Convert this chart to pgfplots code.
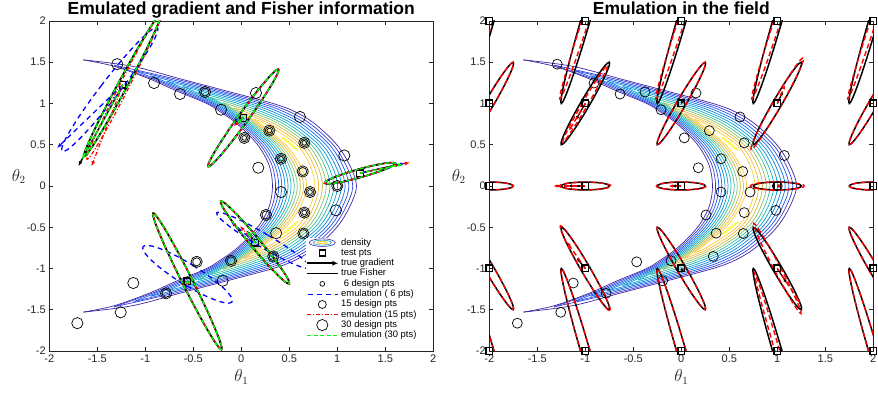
\documentclass[border=0pt]{standalone}
\usepackage{fontspec}
\setmainfont{Liberation Sans}
\usepackage{pgfplots}
\usepackage{pgfplotstable}
\pgfplotsset{compat=1.18}
\usetikzlibrary{arrows.meta}

\definecolor{k0}{rgb}{0.24,0.15,0.62}
\definecolor{k1}{rgb}{0.22,0.24,0.84}
\definecolor{k2}{rgb}{0.12,0.33,0.92}
\definecolor{k3}{rgb}{0.06,0.43,0.90}
\definecolor{k4}{rgb}{0.05,0.52,0.86}
\definecolor{k5}{rgb}{0.04,0.61,0.82}
\definecolor{k6}{rgb}{0.08,0.69,0.74}
\definecolor{k7}{rgb}{0.25,0.75,0.60}
\definecolor{k8}{rgb}{0.52,0.76,0.42}
\definecolor{k9}{rgb}{0.78,0.74,0.28}
\definecolor{k10}{rgb}{0.96,0.73,0.24}
\definecolor{k11}{rgb}{0.99,0.80,0.18}
\definecolor{k12}{rgb}{0.97,0.96,0.08}
\definecolor{axgray}{rgb}{0.15,0.15,0.15}

% unit circle (cos, sin), used to draw the Fisher ellipses
\pgfplotstableread{
c s
0 1
-0.2588 0.9659
-0.5 0.866
-0.7071 0.7071
-0.866 0.5
-0.9659 0.2588
-1 0
-0.9659 -0.2588
-0.866 -0.5
-0.7071 -0.7071
-0.5 -0.866
-0.2588 -0.9659
0 -1
0.2588 -0.9659
0.5 -0.866
0.7071 -0.7071
0.866 -0.5
0.9659 -0.2588
1 0
0.9659 0.2588
0.866 0.5
0.7071 0.7071
0.5 0.866
0.2588 0.9659
0 1
}\unitc

% ellipse: style, cx, cy, ux, uy, a, b
\newcommand{\Ell}[7]{\addplot[smooth,#1] table[x expr={#2+(#6)*(#4)*\thisrow{c}-(#7)*(#5)*\thisrow{s}}, y expr={#3+(#6)*(#5)*\thisrow{c}+(#7)*(#4)*\thisrow{s}}]{\unitc};}

\newcommand{\ctr}[3]{\addplot[#1,line width=0.7pt,smooth,tension=0.55] coordinates {#2};\addplot[#1,line width=0.7pt,smooth,tension=0.55] coordinates {#3};}

\newcommand{\allcontours}{%
\ctr{k0}{(-1.646,1.529)(-1.13,1.45)(-0.64,1.3)(-0.15,1.15)(0.33,1)(0.56,0.9)(0.77,0.75)(0.995,0.5)(1.13,0.25)(1.2,0)(1.13,-0.25)(0.995,-0.5)(0.77,-0.75)(0.56,-0.9)(0.33,-1)(-0.15,-1.15)(-0.64,-1.3)(-1.13,-1.45)(-1.646,-1.529)}{(-1.646,-1.529)(-1.32,-1.45)(-0.96,-1.3)(-0.67,-1.15)(-0.36,-1)(-0.22,-0.9)(-0.04,-0.75)(0.17,-0.5)(0.29,-0.25)(0.325,0)(0.29,0.25)(0.17,0.5)(-0.04,0.75)(-0.22,0.9)(-0.36,1)(-0.67,1.15)(-0.96,1.3)(-1.32,1.45)(-1.646,1.529)}
\ctr{k1}{(-1.325,1.465)(-0.699,1.3)(-0.205,1.15)(0.269,1)(0.502,0.9)(0.723,0.75)(0.957,0.5)(1.092,0.25)(1.161,0)(1.092,-0.25)(0.957,-0.5)(0.723,-0.75)(0.502,-0.9)(0.269,-1)(-0.205,-1.15)(-0.699,-1.3)(-1.325,-1.465)}{(-1.325,-1.465)(-0.929,-1.3)(-0.636,-1.15)(-0.337,-1)(-0.197,-0.9)(-0.018,-0.75)(0.197,-0.5)(0.32,-0.25)(0.357,0)(0.32,0.25)(0.197,0.5)(-0.018,0.75)(-0.197,0.9)(-0.337,1)(-0.636,1.15)(-0.929,1.3)(-1.325,1.465)}
\ctr{k2}{(-1.118,1.4)(-0.758,1.3)(-0.259,1.15)(0.208,1)(0.445,0.9)(0.677,0.75)(0.919,0.5)(1.055,0.25)(1.121,0)(1.055,-0.25)(0.919,-0.5)(0.677,-0.75)(0.445,-0.9)(0.208,-1)(-0.259,-1.15)(-0.758,-1.3)(-1.118,-1.4)}{(-1.118,-1.4)(-0.898,-1.3)(-0.602,-1.15)(-0.313,-1)(-0.175,-0.9)(0.004,-0.75)(0.223,-0.5)(0.349,-0.25)(0.39,0)(0.349,0.25)(0.223,0.5)(0.004,0.75)(-0.175,0.9)(-0.313,1)(-0.602,1.15)(-0.898,1.3)(-1.118,1.4)}
\ctr{k3}{(-0.945,1.336)(-0.817,1.3)(-0.314,1.15)(0.146,1)(0.387,0.9)(0.63,0.75)(0.882,0.5)(1.017,0.25)(1.082,0)(1.017,-0.25)(0.882,-0.5)(0.63,-0.75)(0.387,-0.9)(0.146,-1)(-0.314,-1.15)(-0.817,-1.3)(-0.945,-1.336)}{(-0.945,-1.336)(-0.867,-1.3)(-0.567,-1.15)(-0.29,-1)(-0.152,-0.9)(0.026,-0.75)(0.25,-0.5)(0.379,-0.25)(0.422,0)(0.379,0.25)(0.25,0.5)(0.026,0.75)(-0.152,0.9)(-0.29,1)(-0.567,1.15)(-0.867,1.3)(-0.945,1.336)}
\ctr{k4}{(-0.776,1.271)(-0.369,1.15)(0.085,1)(0.329,0.9)(0.584,0.75)(0.843,0.5)(0.98,0.25)(1.043,0)(0.98,-0.25)(0.843,-0.5)(0.584,-0.75)(0.329,-0.9)(0.085,-1)(-0.369,-1.15)(-0.776,-1.271)}{(-0.776,-1.271)(-0.533,-1.15)(-0.267,-1)(-0.129,-0.9)(0.048,-0.75)(0.276,-0.5)(0.408,-0.25)(0.455,0)(0.408,0.25)(0.276,0.5)(0.048,0.75)(-0.129,0.9)(-0.267,1)(-0.533,1.15)(-0.776,1.271)}
\ctr{k5}{(-0.61,1.205)(-0.424,1.15)(0.024,1)(0.272,0.9)(0.537,0.75)(0.805,0.5)(0.942,0.25)(1.003,0)(0.942,-0.25)(0.805,-0.5)(0.537,-0.75)(0.272,-0.9)(0.024,-1)(-0.424,-1.15)(-0.61,-1.205)}{(-0.61,-1.205)(-0.499,-1.15)(-0.244,-1)(-0.107,-0.9)(0.07,-0.75)(0.303,-0.5)(0.438,-0.25)(0.487,0)(0.438,0.25)(0.303,0.5)(0.07,0.75)(-0.107,0.9)(-0.244,1)(-0.499,1.15)(-0.61,1.205)}
\ctr{k6}{(-0.45,1.14)(-0.038,1)(0.213,0.9)(0.491,0.75)(0.768,0.5)(0.904,0.25)(0.964,0)(0.904,-0.25)(0.768,-0.5)(0.491,-0.75)(0.213,-0.9)(-0.038,-1)(-0.45,-1.14)}{(-0.45,-1.14)(-0.22,-1)(-0.084,-0.9)(0.092,-0.75)(0.329,-0.5)(0.468,-0.25)(0.519,0)(0.468,0.25)(0.329,0.5)(0.092,0.75)(-0.084,0.9)(-0.22,1)(-0.45,1.14)}
\ctr{k7}{(-0.32,1.075)(-0.099,1)(0.156,0.9)(0.444,0.75)(0.73,0.5)(0.867,0.25)(0.924,0)(0.867,-0.25)(0.73,-0.5)(0.444,-0.75)(0.156,-0.9)(-0.099,-1)(-0.32,-1.075)}{(-0.32,-1.075)(-0.197,-1)(-0.061,-0.9)(0.114,-0.75)(0.356,-0.5)(0.497,-0.25)(0.552,0)(0.497,0.25)(0.356,0.5)(0.114,0.75)(-0.061,0.9)(-0.197,1)(-0.32,1.075)}
\ctr{k8}{(-0.19,1.01)(0.098,0.9)(0.397,0.75)(0.692,0.5)(0.829,0.25)(0.885,0)(0.829,-0.25)(0.692,-0.5)(0.397,-0.75)(0.098,-0.9)(-0.19,-1.01)}{(-0.19,-1.01)(-0.039,-0.9)(0.136,-0.75)(0.383,-0.5)(0.527,-0.25)(0.584,0)(0.527,0.25)(0.383,0.5)(0.136,0.75)(-0.039,0.9)(-0.19,1.01)}
\ctr{k9}{(-0.077,0.945)(0.04,0.9)(0.35,0.75)(0.654,0.5)(0.792,0.25)(0.846,0)(0.792,-0.25)(0.654,-0.5)(0.35,-0.75)(0.04,-0.9)(-0.077,-0.945)}{(-0.077,-0.945)(-0.016,-0.9)(0.158,-0.75)(0.409,-0.5)(0.556,-0.25)(0.617,0)(0.556,0.25)(0.409,0.5)(0.158,0.75)(-0.016,0.9)(-0.077,0.945)}
\ctr{k10}{(0.031,0.879)(0.304,0.75)(0.616,0.5)(0.754,0.25)(0.806,0)(0.754,-0.25)(0.616,-0.5)(0.304,-0.75)(0.031,-0.879)}{(0.031,-0.879)(0.18,-0.75)(0.436,-0.5)(0.586,-0.25)(0.649,0)(0.586,0.25)(0.436,0.5)(0.18,0.75)(0.031,0.879)}
\ctr{k11}{(0.136,0.807)(0.257,0.75)(0.578,0.5)(0.716,0.25)(0.767,0)(0.716,-0.25)(0.578,-0.5)(0.257,-0.75)(0.136,-0.807)}{(0.136,-0.807)(0.202,-0.75)(0.462,-0.5)(0.616,-0.25)(0.681,0)(0.616,0.25)(0.462,0.5)(0.202,0.75)(0.136,0.807)}
\ctr{k12}{(0.43,0.59)(0.51,0.525)(0.585,0.44)(0.575,0.435)}{(0.575,0.435)(0.5,0.51)(0.425,0.58)(0.43,0.59)}
\ctr{k12}{(0.43,-0.59)(0.51,-0.525)(0.585,-0.44)(0.575,-0.435)}{(0.575,-0.435)(0.5,-0.51)(0.425,-0.58)(0.43,-0.59)}
}

\tikzset{
 blueD/.style={blue, line width=1.3pt, dash pattern=on 5pt off 4pt},
 redDD/.style={red, line width=1.2pt, dash pattern=on 4pt off 2pt on 1pt off 2pt},
 greenD/.style={green, line width=1.3pt, dash pattern=on 4pt off 2.5pt},
 blackE/.style={black, line width=1.8pt},
 blackR/.style={black, line width=1.5pt},
 redR/.style={red, line width=1.4pt, dash pattern=on 5pt off 3pt},
 legbox/.style={draw=none, fill=none},
}

\pgfplotsset{
 banana/.style={
  scale only axis, width=384pt, height=330pt,
  xmin=-2, xmax=2, ymin=-2, ymax=2,
  xtick={-2,-1.5,-1,-0.5,0,0.5,1,1.5,2},
  ytick={-2,-1.5,-1,-0.5,0,0.5,1,1.5,2},
  tick align=inside, major tick length=4pt,
  axis line style={axgray, line width=0.6pt},
  tick style={axgray, line width=0.5pt},
  ticklabel style={font=\fontsize{11}{11}\selectfont, text=axgray},
  /pgf/number format/assume math mode=true,
  clip mode=individual,
  xlabel={$\theta_1$},
  ylabel={$\theta_2$},
  xlabel style={font=\fontsize{16}{16}\selectfont, text=axgray, at={(axis description cs:0.5,0)}, anchor=base, yshift=-31pt},
  ylabel style={font=\fontsize{16}{16}\selectfont, text=axgray, rotate=-90, at={(axis description cs:0,0.515)}, anchor=base west, xshift=-41pt},
  title style={at={(axis description cs:0.5,1)}, anchor=base, yshift=0pt, font=\fontsize{17.5}{17.5}\selectfont\bfseries},
 },
}

\begin{document}
\begin{tikzpicture}
\path[use as bounding box] (0,0) rectangle (878pt,395pt);

%================ LEFT =================
\begin{axis}[banana, at={(49.3pt,44pt)}, anchor=south west,
  title={Emulated gradient and Fisher information},
  legend style={at={(axis description cs:0.669,0.343)}, anchor=north west, draw=none, fill=white,
    font=\fontsize{9.4}{9.4}\selectfont, row sep=1pt, inner sep=0pt, column sep=1.5pt,
    nodes={inner sep=0.5pt, text height=6.5pt, text depth=1.8pt, anchor=west}},
  legend cell align=left]

\addlegendimage{legend image code/.code={\path[legbox] (0pt,-3pt) rectangle (30pt,3pt);
  \draw[k0,line width=0.6pt,fill=none] (15pt,0pt) ellipse [x radius=13pt, y radius=3.8pt];
  \draw[k5,line width=0.6pt,fill=none] (15pt,0pt) ellipse [x radius=9pt, y radius=2.5pt];
  \draw[k11,line width=0.9pt,fill=none] (15pt,0pt) ellipse [x radius=5pt, y radius=1.2pt];}}
\addlegendentry{density}
\addlegendimage{legend image code/.code={\path[legbox] (0pt,-3pt) rectangle (30pt,3pt);
  \draw[black,line width=1.3pt] plot[mark=square, mark size=3pt] coordinates {(15pt,0pt)};}}
\addlegendentry{test pts}
\addlegendimage{legend image code/.code={\path[legbox] (0pt,-3pt) rectangle (30pt,3pt);
  \draw[black,line width=1.6pt,-{Latex[length=6pt,width=5pt]}] (0pt,0pt)--(31pt,0pt);}}
\addlegendentry{true gradient}
\addlegendimage{legend image code/.code={\path[legbox] (0pt,-3pt) rectangle (30pt,3pt);
  \draw[black,line width=1.8pt] (0pt,0pt)--(31pt,0pt);}}
\addlegendentry{true Fisher}
\addlegendimage{legend image code/.code={\path[legbox] (0pt,-3pt) rectangle (30pt,3pt);
  \draw[black,line width=0.7pt,fill=none] (15pt,0pt) circle (2.4pt);}}
\addlegendentry{\ 6 design pts}
\addlegendimage{legend image code/.code={\path[legbox] (0pt,-3pt) rectangle (30pt,3pt);
  \draw[blueD] (1pt,0pt)--(31pt,0pt);}}
\addlegendentry{emulation (\ 6 pts)}
\addlegendimage{legend image code/.code={\path[legbox] (0pt,-3pt) rectangle (30pt,3pt);
  \draw[overlay,black,line width=0.7pt,fill=none] (15pt,0pt) circle (4pt);}}
\addlegendentry{15 design pts}
\addlegendimage{legend image code/.code={\path[legbox] (0pt,-3pt) rectangle (30pt,3pt);
  \draw[redDD] (0pt,0pt)--(31pt,0pt);}}
\addlegendentry{emulation (15 pts)}
\addlegendimage{legend image code/.code={\path[legbox] (0pt,-3pt) rectangle (30pt,3pt);
  \draw[overlay,black,line width=0.7pt,fill=none] (15pt,0pt) circle (5.6pt);}}
\addlegendentry{30 design pts}
\addlegendimage{legend image code/.code={\path[legbox] (0pt,-3pt) rectangle (30pt,3pt);
  \draw[greenD] (0pt,0pt)--(31pt,0pt);}}
\addlegendentry{emulation (30 pts)}

\allcontours

% test points
\addplot[only marks, mark=square, mark size=3.3pt, black, line width=1.4pt] coordinates {(-1.235,1.227)(0.021,0.825)(1.236,0.155)(0.143,-0.685)(-0.562,-1.156)};

% true gradient
\addplot[black, line width=1.5pt, -{Latex[length=5pt,width=4pt]}, quiver={u=\thisrow{u},v=\thisrow{v}}] table {
x y u v
-1.235 1.227 -0.463 -0.987
0.021 0.825 -0.07 -0.07
1.236 0.155 0.42 0.11
0.143 -0.685 -0.09 0.15
-0.562 -1.156 0 -0.06
};
% true Fisher
\Ell{blackE}{-1.235}{1.227}{0.42}{0.907}{0.96}{0.05}
\Ell{blackE}{0.021}{0.825}{0.526}{0.85}{0.694}{0.055}
\Ell{blackE}{1.236}{0.155}{0.95}{0.31}{0.384}{0.05}
\Ell{blackE}{0.143}{-0.685}{0.58}{-0.815}{0.614}{0.055}
\Ell{blackE}{-0.562}{-1.156}{0.395}{-0.918}{0.9}{0.055}

% 6 design pts
\addplot[only marks, mark=o, mark size=2.4pt, black, line width=0.7pt] coordinates {(0.031,0.583)(0.292,0.671)(0.414,0.330)(0.656,0.523)(0.716,-0.073)(0.656,-0.323)};
% emulation (6 pts)
\addplot[blueD, -{Latex[length=5pt,width=4pt]}, quiver={u=\thisrow{u},v=\thisrow{v}}] table {
x y u v
-1.235 1.227 -0.685 -0.767
0.021 0.825 -0.1 -0.08
1.236 0.155 0.47 0.12
0.143 -0.685 -0.25 0.25
-0.562 -1.156 -0.02 -0.1
};
\Ell{blueD}{-1.37}{1.17}{0.55}{0.835}{0.9}{0.1}
\Ell{blueD}{0.021}{0.825}{0.526}{0.85}{0.694}{0.055}
\Ell{blueD}{1.236}{0.155}{0.95}{0.31}{0.39}{0.05}
\Ell{blueD}{0.23}{-0.66}{0.823}{-0.568}{0.59}{0.08}
\Ell{blueD}{-0.56}{-1.07}{0.81}{-0.59}{0.57}{0.12}

% 15 design pts
\addplot[only marks, mark=o, mark size=4pt, black, line width=0.7pt] coordinates {(-0.378,1.139)(0.031,0.583)(0.292,0.671)(0.414,0.330)(0.656,0.523)(0.640,0.176)(0.716,-0.073)(1.0,0.0)(0.257,-0.351)(0.656,-0.323)(0.646,-0.576)(0.333,-0.854)(-0.465,-0.919)(-0.107,-0.907)(-0.784,-1.301)};
% emulation (15 pts)
\addplot[redDD, -{Latex[length=5pt,width=4pt]}, quiver={u=\thisrow{u},v=\thisrow{v}}] table {
x y u v
-1.235 1.227 -0.325 -0.987
0.021 0.825 -0.1 -0.1
1.236 0.155 0.52 0.13
0.143 -0.685 -0.157 0.2
-0.562 -1.156 0 -0.07
};
\Ell{redDD}{-1.215}{1.22}{0.40}{0.916}{0.98}{0.05}
\Ell{redDD}{0.021}{0.825}{0.526}{0.85}{0.694}{0.055}
\Ell{redDD}{1.236}{0.155}{0.95}{0.31}{0.39}{0.05}
\Ell{redDD}{0.143}{-0.685}{0.58}{-0.815}{0.614}{0.055}
\Ell{redDD}{-0.562}{-1.156}{0.395}{-0.918}{0.9}{0.055}

% 30 design pts
\addplot[only marks, mark=o, mark size=5.6pt, black, line width=0.7pt] coordinates {(-1.292,1.477)(-0.909,1.248)(-0.638,1.115)(-0.378,1.139)(-0.211,0.925)(0.153,1.127)(0.031,0.583)(0.292,0.671)(0.611,0.837)(0.656,0.523)(0.414,0.330)(0.177,0.221)(0.640,0.176)(1.073,0.370)(0.414,-0.073)(0.716,-0.073)(1.0,0.0)(0.257,-0.351)(0.656,-0.323)(0.986,-0.295)(0.363,-0.572)(0.646,-0.576)(0.333,-0.854)(-0.465,-0.919)(-0.107,-0.907)(-0.194,-1.149)(-1.125,-1.176)(-0.784,-1.301)(-1.256,-1.531)(-1.708,-1.663)};
% emulation (30 pts)
\addplot[greenD, -{Latex[length=5pt,width=4pt]}, quiver={u=\thisrow{u},v=\thisrow{v}}] table {
x y u v
-1.235 1.227 -0.425 -0.907
0.021 0.825 -0.07 -0.07
1.236 0.155 0.45 0.11
0.143 -0.685 -0.09 0.14
-0.562 -1.156 0 -0.06
};
\Ell{greenD}{-1.235}{1.227}{0.42}{0.907}{0.96}{0.05}
\Ell{greenD}{0.021}{0.825}{0.526}{0.85}{0.694}{0.055}
\Ell{greenD}{1.236}{0.155}{0.95}{0.31}{0.384}{0.05}
\Ell{greenD}{0.143}{-0.685}{0.58}{-0.815}{0.614}{0.055}
\Ell{greenD}{-0.562}{-1.156}{0.395}{-0.918}{0.9}{0.055}
\end{axis}

%================ RIGHT =================
\begin{axis}[banana, at={(489.3pt,44pt)}, anchor=south west,
  title={Emulation in the field}]
\allcontours

\addplot[only marks, mark=o, mark size=5pt, black, line width=0.7pt] coordinates {(-1.292,1.477)(-0.909,1.248)(-0.638,1.115)(-0.378,1.139)(-0.211,0.925)(0.153,1.127)(0.031,0.583)(0.292,0.671)(0.611,0.837)(0.656,0.523)(0.414,0.330)(0.177,0.221)(0.640,0.176)(1.073,0.370)(0.414,-0.073)(0.716,-0.073)(1.0,0.0)(0.257,-0.351)(0.656,-0.323)(0.986,-0.295)(0.363,-0.572)(0.646,-0.576)(0.333,-0.854)(-0.465,-0.919)(-0.107,-0.907)(-0.194,-1.149)(-1.125,-1.176)(-0.784,-1.301)(-1.256,-1.531)(-1.708,-1.663)};

% true Fisher on the grid
\Ell{blackR}{-2}{2}{0.2425}{0.9701}{1.031}{0.048}
\Ell{blackR}{-1}{2}{0.2425}{0.9701}{1.031}{0.048}
\Ell{blackR}{0}{2}{0.2425}{0.9701}{1.031}{0.048}
\Ell{blackR}{1}{2}{0.2425}{0.9701}{1.031}{0.048}
\Ell{blackR}{2}{2}{0.2425}{0.9701}{1.031}{0.048}
\Ell{blackR}{-2}{1}{0.4472}{0.8944}{0.559}{0.048}
\Ell{blackR}{-1}{1}{0.4472}{0.8944}{0.559}{0.048}
\Ell{blackR}{0}{1}{0.4472}{0.8944}{0.559}{0.048}
\Ell{blackR}{1}{1}{0.4472}{0.8944}{0.559}{0.048}
\Ell{blackR}{2}{1}{0.4472}{0.8944}{0.559}{0.048}
\Ell{blackR}{-2}{0}{1}{0}{0.25}{0.048}
\Ell{blackR}{-1}{0}{1}{0}{0.25}{0.048}
\Ell{blackR}{0}{0}{1}{0}{0.25}{0.048}
\Ell{blackR}{1}{0}{1}{0}{0.25}{0.048}
\Ell{blackR}{2}{0}{1}{0}{0.25}{0.048}
\Ell{blackR}{-2}{-1}{0.4472}{-0.8944}{0.559}{0.048}
\Ell{blackR}{-1}{-1}{0.4472}{-0.8944}{0.559}{0.048}
\Ell{blackR}{0}{-1}{0.4472}{-0.8944}{0.559}{0.048}
\Ell{blackR}{1}{-1}{0.4472}{-0.8944}{0.559}{0.048}
\Ell{blackR}{2}{-1}{0.4472}{-0.8944}{0.559}{0.048}
\Ell{blackR}{-2}{-2}{0.2425}{-0.9701}{1.031}{0.048}
\Ell{blackR}{-1}{-2}{0.2425}{-0.9701}{1.031}{0.048}
\Ell{blackR}{0}{-2}{0.2425}{-0.9701}{1.031}{0.048}
\Ell{blackR}{1}{-2}{0.2425}{-0.9701}{1.031}{0.048}
\Ell{blackR}{2}{-2}{0.2425}{-0.9701}{1.031}{0.048}

\addplot[black, line width=1.3pt, -{Latex[length=4pt,width=3.5pt]}, quiver={u=\thisrow{u},v=\thisrow{v}}] table {
x y u v
-1 1 -0.1 -0.2
1 1 0.06 0.15
-1 0 -0.18 0
0 0 -0.1 0
1 0 0.05 0
0 1 0.03 0.06
-1 -1 -0.09 0.13
1 -1 0.1 -0.18
0 -1 0.03 -0.05
};

% emulated Fisher on the grid
\Ell{redR}{-2}{2}{0.27}{0.963}{0.98}{0.035}
\Ell{redR}{-1}{2}{0.27}{0.963}{0.98}{0.035}
\Ell{redR}{0}{2}{0.27}{0.963}{0.98}{0.035}
\Ell{redR}{1}{2}{0.27}{0.963}{0.98}{0.035}
\Ell{redR}{2}{2}{0.27}{0.963}{0.98}{0.03}
\Ell{redR}{-2}{1}{0.4472}{0.8944}{0.559}{0.048}
\Ell{redR}{-1}{1}{0.4472}{0.8944}{0.52}{0.03}
\Ell{redR}{0}{1}{0.4472}{0.8944}{0.559}{0.048}
\Ell{redR}{1}{1}{0.44}{0.898}{0.62}{0.045}
\Ell{redR}{2}{1}{0.4472}{0.8944}{0.559}{0.048}
\Ell{redR}{-2}{0}{1}{0}{0.25}{0.048}
\Ell{redR}{-1}{0}{1}{0}{0.27}{0.045}
\Ell{redR}{0}{0}{1}{0}{0.26}{0.048}
\Ell{redR}{1}{0}{1}{0}{0.28}{0.048}
\Ell{redR}{2}{0}{1}{0}{0.25}{0.048}
\Ell{redR}{-2}{-1}{0.4472}{-0.8944}{0.559}{0.048}
\Ell{redR}{-1}{-1}{0.4472}{-0.8944}{0.58}{0.048}
\Ell{redR}{0}{-1}{0.4472}{-0.8944}{0.559}{0.048}
\Ell{redR}{1}{-1}{0.41}{-0.912}{0.6}{0.035}
\Ell{redR}{2}{-1}{0.4472}{-0.8944}{0.559}{0.048}
\Ell{redR}{-2}{-2}{0.2425}{-0.9701}{1.031}{0.048}
\Ell{redR}{-1}{-2}{0.2425}{-0.9701}{1.031}{0.048}
\Ell{redR}{0}{-2}{0.2425}{-0.9701}{1.031}{0.048}
\Ell{redR}{1}{-2}{0.2425}{-0.9701}{0.98}{0.025}
\Ell{redR}{2}{-2}{0.2425}{-0.9701}{1.031}{0.048}

\addplot[redR, -{Latex[length=4pt,width=3.5pt]}, quiver={u=\thisrow{u},v=\thisrow{v}}] table {
x y u v
-1 1 -0.17 -0.33
1 1 0.08 0.22
-1 0 -0.33 0
0 0 -0.13 0
1 0 0.06 0
-1 -1 -0.19 0.32
1 -1 0.24 -0.42
};

% test points on the grid
\addplot[only marks, mark=square, mark size=3.3pt, black, line width=1.4pt] coordinates {(-2,-2)(-1,-2)(0,-2)(1,-2)(2,-2)(-2,-1)(-1,-1)(0,-1)(1,-1)(2,-1)(-2,0)(-1,0)(0,0)(1,0)(2,0)(-2,1)(-1,1)(0,1)(1,1)(2,1)(-2,2)(-1,2)(0,2)(1,2)(2,2)};
\end{axis}
\end{tikzpicture}
\end{document}
